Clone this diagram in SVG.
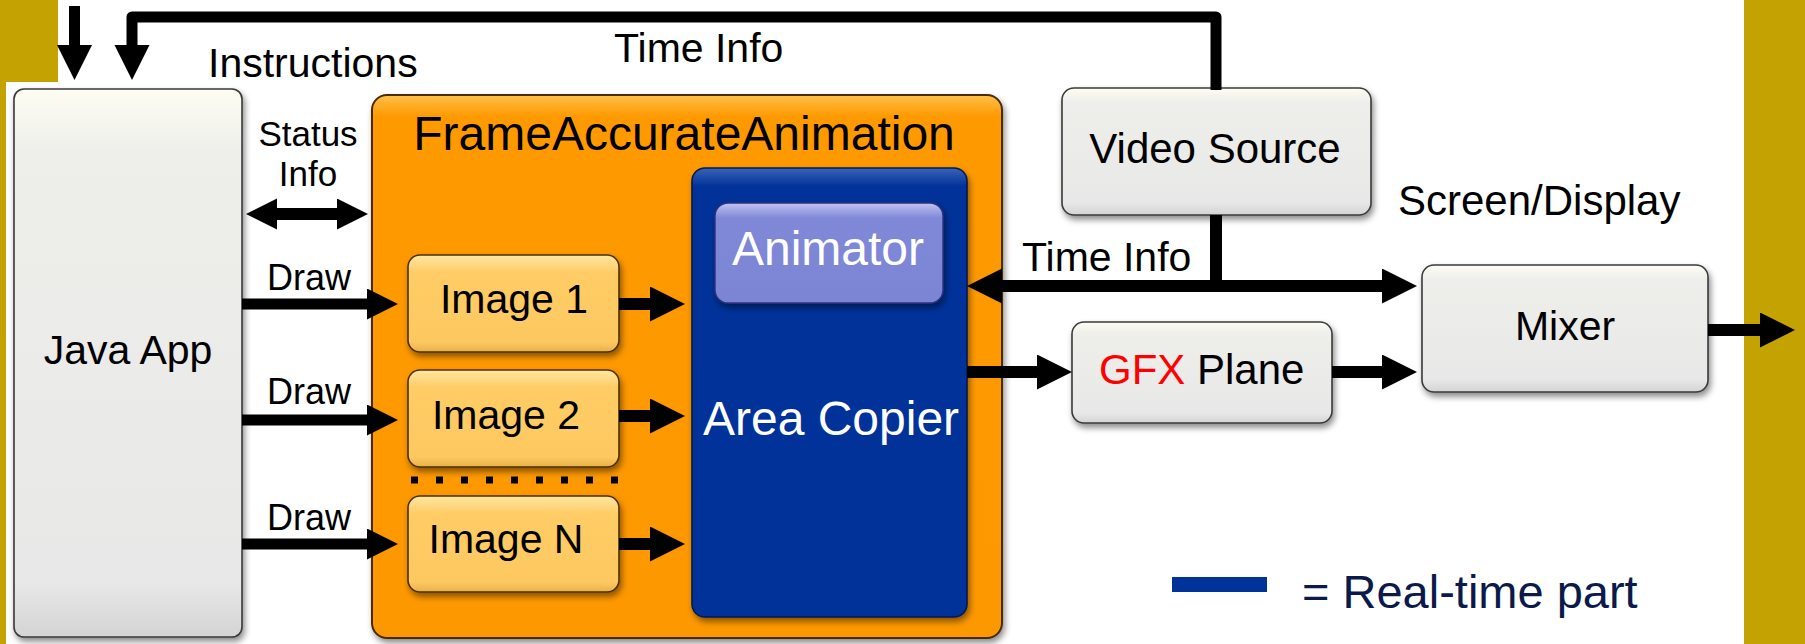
<svg xmlns="http://www.w3.org/2000/svg" width="1805" height="644" viewBox="0 0 1805 644">
<defs>
<style>
text{font-family:"Liberation Sans",Arial,sans-serif;fill:#000}
.c{stroke:#000;stroke-width:12;fill:none}
.gray{fill:url(#gGray);stroke:#3a3a3a;stroke-width:1.6}
.img{fill:url(#gImg);stroke:#4a3000;stroke-width:1.6}
.mid{text-anchor:middle}
</style>
<linearGradient id="gGray" x1="0" y1="0" x2="0" y2="1">
<stop offset="0" stop-color="#fdfdf3"/><stop offset="0.12" stop-color="#eeeeea"/><stop offset="0.9" stop-color="#e8e8e8"/><stop offset="1" stop-color="#d4d4d4"/>
</linearGradient>
<linearGradient id="gImg" x1="0" y1="0" x2="0" y2="1">
<stop offset="0" stop-color="#fee7a4"/><stop offset="0.18" stop-color="#ffcc66"/><stop offset="0.9" stop-color="#fdc860"/><stop offset="1" stop-color="#e9b04a"/>
</linearGradient>
<linearGradient id="gOr" x1="0" y1="0" x2="0" y2="1">
<stop offset="0" stop-color="#ffc04a"/><stop offset="0.04" stop-color="#ff9900"/><stop offset="1" stop-color="#fd9800"/>
</linearGradient>
<linearGradient id="gBlue" x1="0" y1="0" x2="0" y2="1">
<stop offset="0" stop-color="#3a64b8"/><stop offset="0.04" stop-color="#003399"/><stop offset="1" stop-color="#003399"/>
</linearGradient>
<linearGradient id="gAnim" x1="0" y1="0" x2="0" y2="1">
<stop offset="0" stop-color="#c2c4ee"/><stop offset="0.15" stop-color="#8088d8"/><stop offset="1" stop-color="#7c84d4"/>
</linearGradient>
<filter id="sh" x="-10%" y="-10%" width="125%" height="130%">
<feDropShadow dx="2" dy="4" stdDeviation="3" flood-color="#000" flood-opacity="0.45"/>
</filter>
<marker id="ah" markerUnits="userSpaceOnUse" markerWidth="36" markerHeight="36" refX="0" refY="17.5" orient="auto-start-reverse" viewBox="0 0 36 36">
<path d="M0,0 L35,17.5 L0,35 z" fill="#000"/>
</marker>
<marker id="ahs" markerUnits="userSpaceOnUse" markerWidth="32" markerHeight="32" refX="0" refY="15.5" orient="auto-start-reverse" viewBox="0 0 32 32">
<path d="M0,0 L31,15.5 L0,31 z" fill="#000"/>
</marker>
</defs>

<rect x="0" y="0" width="1805" height="644" fill="#ffffff"/>
<rect x="0" y="0" width="58" height="82" fill="#c4a202"/>
<rect x="0" y="0" width="6" height="644" fill="#c4a202"/>
<rect x="1744" y="0" width="61" height="644" fill="#c4a202"/>

<g id="java-app">
<rect class="gray" x="14" y="89" width="228" height="548" rx="10" filter="url(#sh)"/>
<text class="mid" x="128" y="364" font-size="41">Java App</text>
</g>

<g id="frame-accurate-animation">
<rect x="372" y="95" width="630" height="543" rx="15" fill="url(#gOr)" stroke="#4a2c00" stroke-width="2" filter="url(#sh)"/>
<text class="mid" x="684" y="150" font-size="48">FrameAccurateAnimation</text>
</g>

<g id="area-copier">
<rect x="692" y="168" width="275" height="449" rx="13" fill="url(#gBlue)" stroke="#001a55" stroke-width="1.6" filter="url(#sh)"/>
<text class="mid" x="831" y="435" font-size="48" style="fill:#fff">Area Copier</text>
</g>

<g id="animator">
<rect x="715" y="203" width="228" height="100" rx="13" fill="url(#gAnim)" stroke="#2c3080" stroke-width="1.4" filter="url(#sh)"/>
<text class="mid" x="828" y="265" font-size="48" style="fill:#fff">Animator</text>
</g>

<g id="image-1">
<rect class="img" x="408" y="255" width="211" height="97" rx="12" filter="url(#sh)"/>
<text class="mid" x="514" y="313" font-size="41">Image 1</text>
</g>
<g id="image-2">
<rect class="img" x="408" y="370" width="211" height="97" rx="12" filter="url(#sh)"/>
<text class="mid" x="506" y="429" font-size="41">Image 2</text>
</g>
<g id="image-n">
<rect class="img" x="408" y="496" width="211" height="96" rx="12" filter="url(#sh)"/>
<text class="mid" x="506" y="553" font-size="41">Image N</text>
</g>
<g id="dots">
<line x1="411" y1="480" x2="620" y2="480" stroke="#000" stroke-width="7" stroke-dasharray="7 18"/>
</g>

<g id="video-source">
<rect class="gray" x="1062" y="88" width="309" height="127" rx="12" filter="url(#sh)"/>
<text class="mid" x="1215" y="163" font-size="42">Video Source</text>
</g>

<g id="gfx-plane">
<rect class="gray" x="1072" y="322" width="260" height="101" rx="12" filter="url(#sh)"/>
<text x="1099" y="384" font-size="42"><tspan style="fill:#ff0000">GFX</tspan> Plane</text>
</g>

<g id="mixer">
<rect class="gray" x="1422" y="265" width="286" height="127" rx="12" filter="url(#sh)"/>
<text class="mid" x="1565" y="340" font-size="41">Mixer</text>
</g>

<g id="connectors">
<path class="c" d="M74.5,6 V45" marker-end="url(#ah)" style="stroke-width:11"/>
<path class="c" d="M1216,90 V17 H132 V45" marker-end="url(#ah)" style="stroke-width:11;stroke-linejoin:round"/>
<path class="c" d="M277,214 H337" marker-start="url(#ahs)" marker-end="url(#ahs)"/>
<path class="c" d="M242,304 H367" marker-end="url(#ahs)" style="stroke-width:11"/>
<path class="c" d="M242,420 H367" marker-end="url(#ahs)" style="stroke-width:11"/>
<path class="c" d="M242,544 H367" marker-end="url(#ahs)" style="stroke-width:11"/>
<path class="c" d="M619,304 H650" marker-end="url(#ah)"/>
<path class="c" d="M619,416 H650" marker-end="url(#ah)"/>
<path class="c" d="M619,544 H650" marker-end="url(#ah)"/>
<path class="c" d="M1216,215 V286"/>
<path class="c" d="M1216,286 H1002" marker-end="url(#ah)"/>
<path class="c" d="M1210,286 H1382" marker-end="url(#ah)"/>
<path class="c" d="M967,372 H1037" marker-end="url(#ah)"/>
<path class="c" d="M1332,372 H1382" marker-end="url(#ah)"/>
<path class="c" d="M1708,330 H1760" marker-end="url(#ah)"/>
</g>

<g id="labels">
<text x="208" y="77" font-size="41">Instructions</text>
<text x="614" y="62" font-size="41">Time Info</text>
<text class="mid" font-size="35"><tspan x="308" y="146">Status</tspan><tspan x="308" y="186">Info</tspan></text>
<text x="267" y="290" font-size="36">Draw</text>
<text x="267" y="404" font-size="36">Draw</text>
<text x="267" y="530" font-size="36">Draw</text>
<text x="1022" y="271" font-size="41">Time Info</text>
<text x="1398" y="215" font-size="42">Screen/Display</text>
</g>

<g id="legend">
<rect x="1172" y="577" width="95" height="15" fill="#003399"/>
<text x="1302" y="608" font-size="47" style="fill:#0b1a4a">= Real-time part</text>
</g>
</svg>
